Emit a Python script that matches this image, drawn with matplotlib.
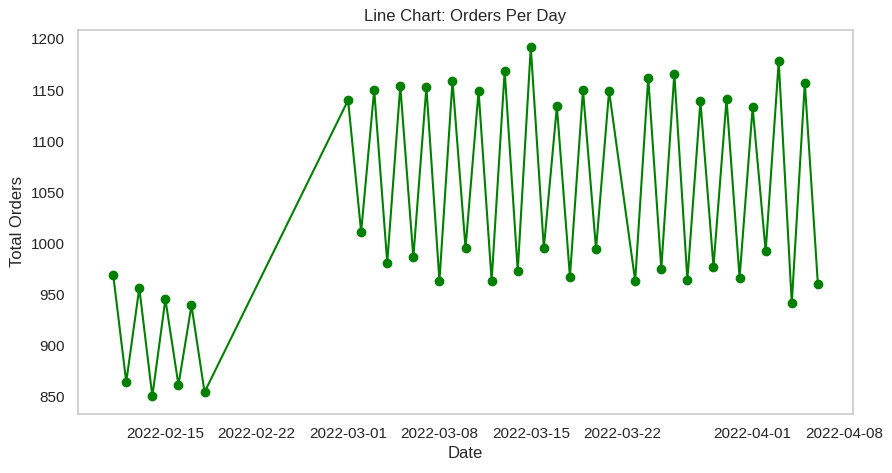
import numpy as np
import pandas as pd
import seaborn as sns
from matplotlib import pyplot as plt

# daily order totals; 2022-02-19..02-28 and 03-22 are missing
dates_feb = pd.date_range("2022-02-11", "2022-02-18", freq="D")
orders_feb = [969, 864, 956, 850, 945, 861, 939, 854]

dates_mar_a = pd.date_range("2022-03-01", "2022-03-21", freq="D")
orders_mar_a = [1140, 1011, 1150, 981, 1154, 986, 1153, 963, 1159, 995, 1149,
                963, 1169, 973, 1192, 995, 1134, 967, 1150, 994, 1149]

dates_mar_b = pd.date_range("2022-03-23", "2022-04-06", freq="D")
orders_mar_b = [963, 1162, 975, 1166, 964, 1139, 977, 1141, 966, 1133, 992,
                1178, 941, 1157, 960]

dates = dates_feb.append(dates_mar_a).append(dates_mar_b)
orders = orders_feb + orders_mar_a + orders_mar_b

sns.set_theme(style="whitegrid")
plt.rcParams['font.family'] = ['Liberation Sans', 'DejaVu Sans']

fig = plt.figure(figsize=(8.92, 4.73), dpi=100)
ax = fig.add_axes([0.0874, 0.1254, 0.869, 0.8118])
ax.plot(dates, orders, marker='o', color='green')
ax.grid(False)
ax.set_title("Line Chart: Orders Per Day")
ax.set_xlabel("Date")
ax.set_ylabel("Total Orders")

fig.savefig("out.png", dpi=100)
